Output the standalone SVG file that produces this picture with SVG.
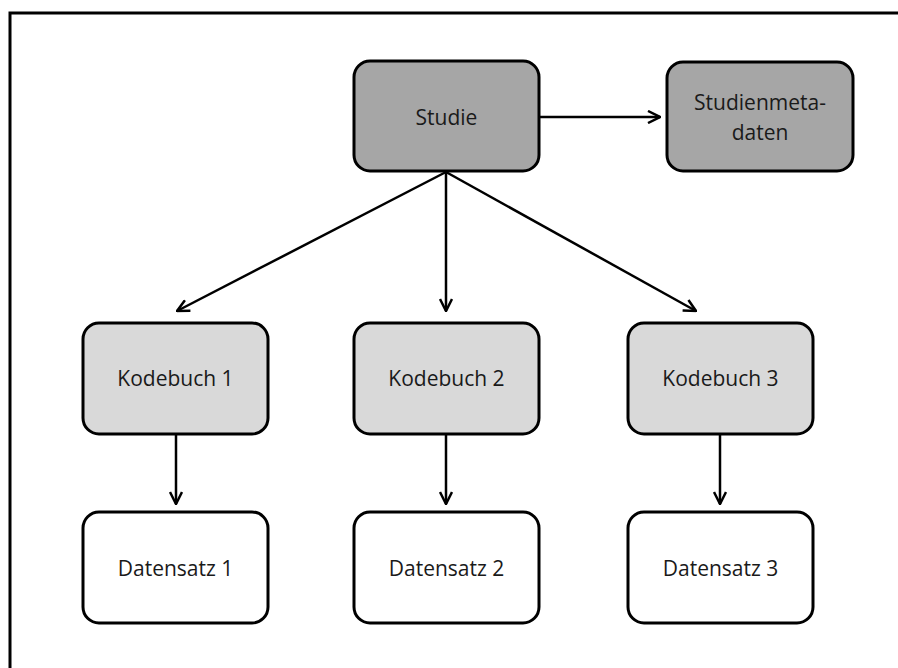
<svg xmlns="http://www.w3.org/2000/svg" width="898" height="668" viewBox="0 0 898 668">
<defs>
<style>
.box{stroke:#000;stroke-width:3}
.dark{fill:#a6a6a6}
.light{fill:#d9d9d9}
.white{fill:#fff}
.lbl{font-family:"Open Sans","Liberation Sans",sans-serif;font-size:21px;fill:#1a1a1a;text-anchor:middle;dominant-baseline:central}
.edge{stroke:#000;stroke-width:2.5;fill:none;marker-end:url(#ah)}
</style>
<marker id="ah" viewBox="0 0 14 14" refX="13" refY="7" markerWidth="14" markerHeight="14" markerUnits="userSpaceOnUse" orient="auto">
<path d="M1,1 L13,7 L1,13" fill="none" stroke="#000" stroke-width="2.5"/>
</marker>
</defs>
<rect x="0" y="0" width="898" height="668" fill="#fff"/>
<rect x="10" y="13" width="920" height="700" fill="none" stroke="#000" stroke-width="3"/>
<g id="connectors">
<line class="edge" x1="539" y1="117" x2="660" y2="117"/>
<line class="edge" x1="446" y1="172" x2="177" y2="311"/>
<line class="edge" x1="446" y1="172" x2="446" y2="311"/>
<line class="edge" x1="446" y1="172" x2="696" y2="311"/>
<line class="edge" x1="176" y1="434" x2="176" y2="504"/>
<line class="edge" x1="446" y1="434" x2="446" y2="504"/>
<line class="edge" x1="720" y1="434" x2="720" y2="504"/>
</g>
<g id="studie"><rect class="box dark" x="354" y="61" width="185" height="110" rx="16"/><text class="lbl" x="446.5" y="117">Studie</text></g>
<g id="studienmetadaten"><rect class="box dark" x="667" y="62" width="186" height="109" rx="16"/><text class="lbl" x="760" y="102">Studienmeta-</text><text class="lbl" x="760" y="132">daten</text></g>
<g id="kodebuch1"><rect class="box light" x="83" y="323" width="185" height="111" rx="16"/><text class="lbl" x="175.5" y="378">Kodebuch 1</text></g>
<g id="kodebuch2"><rect class="box light" x="354" y="323" width="185" height="111" rx="16"/><text class="lbl" x="446.5" y="378">Kodebuch 2</text></g>
<g id="kodebuch3"><rect class="box light" x="628" y="323" width="185" height="111" rx="16"/><text class="lbl" x="720.5" y="378">Kodebuch 3</text></g>
<g id="datensatz1"><rect class="box white" x="83" y="512" width="185" height="111" rx="16"/><text class="lbl" x="175.5" y="568">Datensatz 1</text></g>
<g id="datensatz2"><rect class="box white" x="354" y="512" width="185" height="111" rx="16"/><text class="lbl" x="446.5" y="568">Datensatz 2</text></g>
<g id="datensatz3"><rect class="box white" x="628" y="512" width="185" height="111" rx="16"/><text class="lbl" x="720.5" y="568">Datensatz 3</text></g>
</svg>
